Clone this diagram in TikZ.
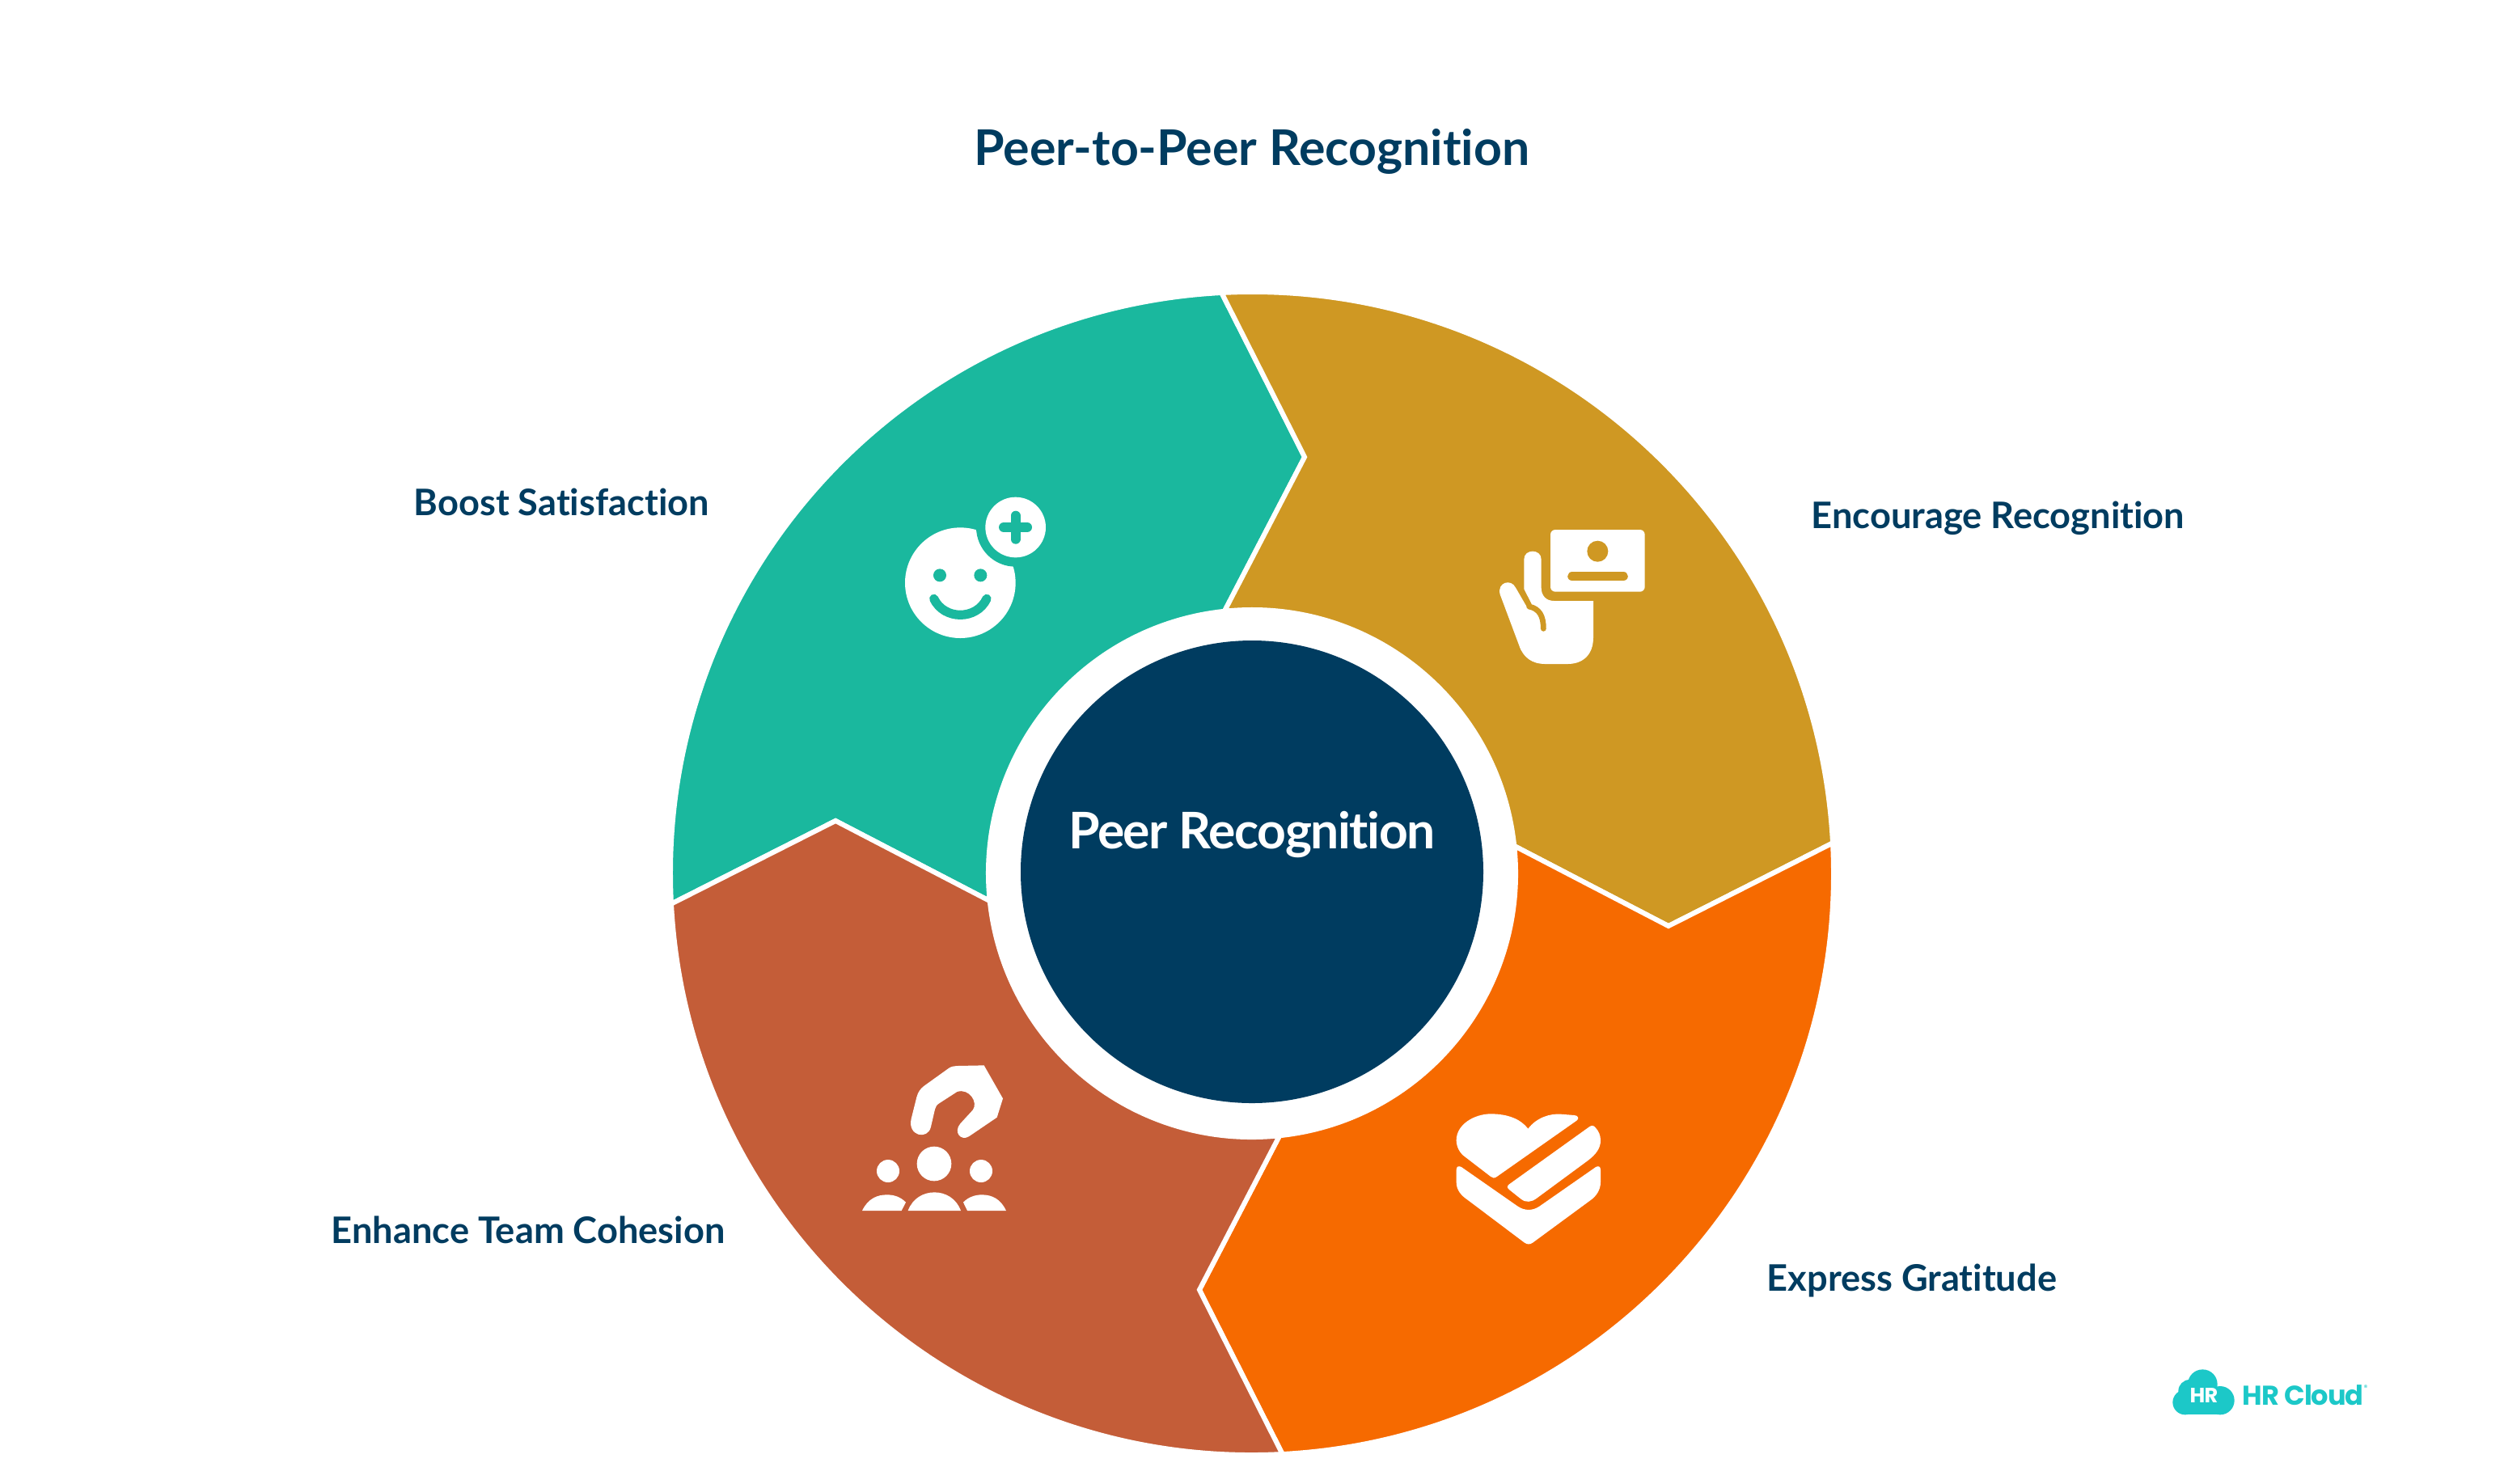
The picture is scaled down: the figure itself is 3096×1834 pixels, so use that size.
\documentclass[tikz,border=0pt]{standalone}
\usepackage{fontspec}
\setmainfont{Lato}[Ligatures=NoCommon]
\newfontfamily\logofont{Poppins}
\definecolor{navy}{HTML}{003C60}
\definecolor{tealc}{HTML}{1AB89E}
\definecolor{goldc}{HTML}{CF9823}
\definecolor{orangec}{HTML}{F66A00}
\definecolor{brickc}{HTML}{C45D38}
\definecolor{logoc}{HTML}{1CC8C8}
\tikzset{
  seg/.style={draw=white,line width=1.5pt,line join=miter},
  lab/.style={text=navy,font=\fontsize{11.3}{14}\selectfont\bfseries,inner sep=0pt,anchor=mid west},
  zoomed/.style 2 args={yscale=-1,shift={(#1,#2)},scale=1/3}
}
\newcommand{\sector}[2]{%
  \begin{scope}[shift={(1548,-1080)},rotate=#2]
  \draw[seg,fill=#1] (183:719) arc[start angle=183,end angle=93,radius=719]
    -- (82.8:519) -- (96:326) arc[start angle=96,end angle=186,radius=326]
    -- (172.8:519) -- cycle;
  \end{scope}}
\begin{document}
\begin{tikzpicture}[x=0.25pt,y=0.25pt]
\useasboundingbox (0,0) rectangle (3096,-1834);
\fill[white] (0,0) rectangle (3096,-1834);
\sector{tealc}{0}
\sector{goldc}{-90}
\sector{orangec}{180}
\sector{brickc}{90}
\node[circle,fill=white,minimum size=163pt,inner sep=0pt] (ring) at (1548,-1080) {};
\node[circle,fill=navy,minimum size=143pt,inner sep=0pt] (hub) at (1548,-1078) {};
\node[text=white,font=\fontsize{15.6}{18}\selectfont\bfseries\addfontfeature{LetterSpace=-2.2},inner sep=0pt,anchor=mid] (hubtext) at (1548,-1039) {Peer Recognition};
\node[text=navy,font=\fontsize{15.2}{18}\selectfont\bfseries,inner sep=0pt,anchor=mid] (title) at (1548,-194) {Peer-to-Peer Recognition};
\node[lab] (l1) at (511,-627) {Boost Satisfaction};
\node[lab] (l2) at (2239,-643) {Encourage Recognition};
\node[lab] (l3) at (2184,-1586) {Express Gratitude};
\node[lab] (l4) at (409,-1527) {Enhance Team Cohesion};
% smile icon
\begin{scope}[zoomed={1080}{580}]
\fill[white] (322,422) circle (205);
\fill[tealc] (527,216) circle (146);
\fill[white] (527,216) circle (112);
\fill[tealc] (246,394) circle (24) (397,394) circle (24);
\draw[tealc,line width=2.8pt,line cap=round] (224,481) .. controls (262,561) and (382,561) .. (420,481);
\draw[tealc,line width=3pt,line cap=round] (483,216) -- (570,216) (527,173) -- (527,260);
\end{scope}
% card and hand icon
\begin{scope}[zoomed={1820}{620}]
\fill[white,rounded corners=1.5pt] (291,105) rectangle (641,335);
\fill[goldc] (466,185) circle (39);
\draw[goldc,line width=2.9pt,line cap=round] (372,278) -- (561,278);
\fill[white] (193,215) .. controls (193,175) and (257,175) .. (257,215) -- (257,320)
  .. controls (257,350) and (275,369) .. (305,369) -- (450,369) -- (450,505)
  .. controls (450,570) and (410,603) .. (355,603) -- (270,603)
  .. controls (225,603) and (190,580) .. (175,535) -- (104,345)
  .. controls (92,300) and (145,285) .. (162,320) -- (206,396) -- (222,382) -- (193,325) -- cycle;
\draw[goldc,line width=1.7pt,line cap=round] (212,390) .. controls (250,398) and (265,425) .. (265,472);
\end{scope}
% heart icon
\begin{scope}[zoomed={1760}{1340}]
\fill[white] (388,167) .. controls (420,125) and (470,110) .. (510,113) -- (560,117)
  .. controls (575,118) and (578,130) .. (568,137) -- (272,345)
  .. controls (262,352) and (258,350) .. (250,345) -- (155,272)
  .. controls (135,258) and (122,235) .. (122,210)
  .. controls (122,150) and (190,112) .. (250,112)
  .. controls (310,112) and (360,130) .. (388,167) -- cycle;
\fill[white] (615,160) .. controls (625,153) and (632,155) .. (638,163)
  .. controls (650,175) and (657,192) .. (657,210)
  .. controls (657,240) and (640,262) .. (610,285) -- (420,425)
  .. controls (400,440) and (380,442) .. (362,428) -- (318,393)
  .. controls (309,386) and (310,379) .. (318,373) -- cycle;
\fill[white] (122,320) .. controls (122,306) and (132,303) .. (142,310) -- (350,455)
  .. controls (375,472) and (405,472) .. (430,455) -- (638,310)
  .. controls (648,303) and (657,306) .. (657,320) -- (657,365)
  .. controls (657,395) and (640,418) .. (620,432) -- (405,590)
  .. controls (395,597) and (385,597) .. (375,590) -- (165,432)
  .. controls (140,415) and (122,395) .. (122,365) -- cycle;
\end{scope}
% team icon
\begin{scope}[zoomed={1050}{1290}]
\fill[white] (230,280) -- (250,200) .. controls (255,180) and (265,168) .. (278,158)
  -- (370,92) .. controls (380,86) and (390,84) .. (400,84) -- (500,82) -- (570,205) -- (548,275) -- (445,345)
  .. controls (415,365) and (385,330) .. (412,298) -- (458,248)
  .. controls (480,220) and (445,165) .. (400,180) -- (335,222)
  .. controls (325,228) and (320,235) .. (318,245) -- (303,310)
  .. controls (292,360) and (215,345) .. (230,280) -- cycle;
\fill[white] (315,447) circle (64) (144,474) circle (42) (489,474) circle (42);
\fill[white] (48,621) .. controls (70,575) and (105,562) .. (140,562) .. controls (170,562) and (192,572) .. (210,590) -- (194,621) -- cycle;
\fill[white] (218,621) .. controls (235,575) and (275,553) .. (316,553) .. controls (357,553) and (397,575) .. (414,621) -- cycle;
\fill[white] (438,621) -- (423,590) .. controls (440,572) and (465,562) .. (492,562) .. controls (530,562) and (562,578) .. (582,621) -- cycle;
\end{scope}
% logo
\begin{scope}[zoomed={2670}{1670}]
\fill[logoc] (160,125) circle (55) (112,150) circle (42) (95,192) circle (46) (225,185) circle (53);
\fill[logoc] (95,150) rectangle (225,238);
\end{scope}
\node[text=white,font=\logofont\fontsize{6.4}{8}\selectfont\bfseries\addfontfeature{LetterSpace=-3},inner sep=0pt] (logohr) at (2725,-1725) {HR};
\node[text=logoc,font=\logofont\fontsize{8.4}{10}\selectfont\bfseries\addfontfeature{LetterSpace=-3},inner sep=0pt,anchor=mid west] (logotext) at (2772,-1727) {HR Cloud};
\node[text=logoc,font=\logofont\fontsize{2.4}{3}\selectfont,inner sep=0pt] (logor) at (2925,-1716) {®};
\end{tikzpicture}
\end{document}
